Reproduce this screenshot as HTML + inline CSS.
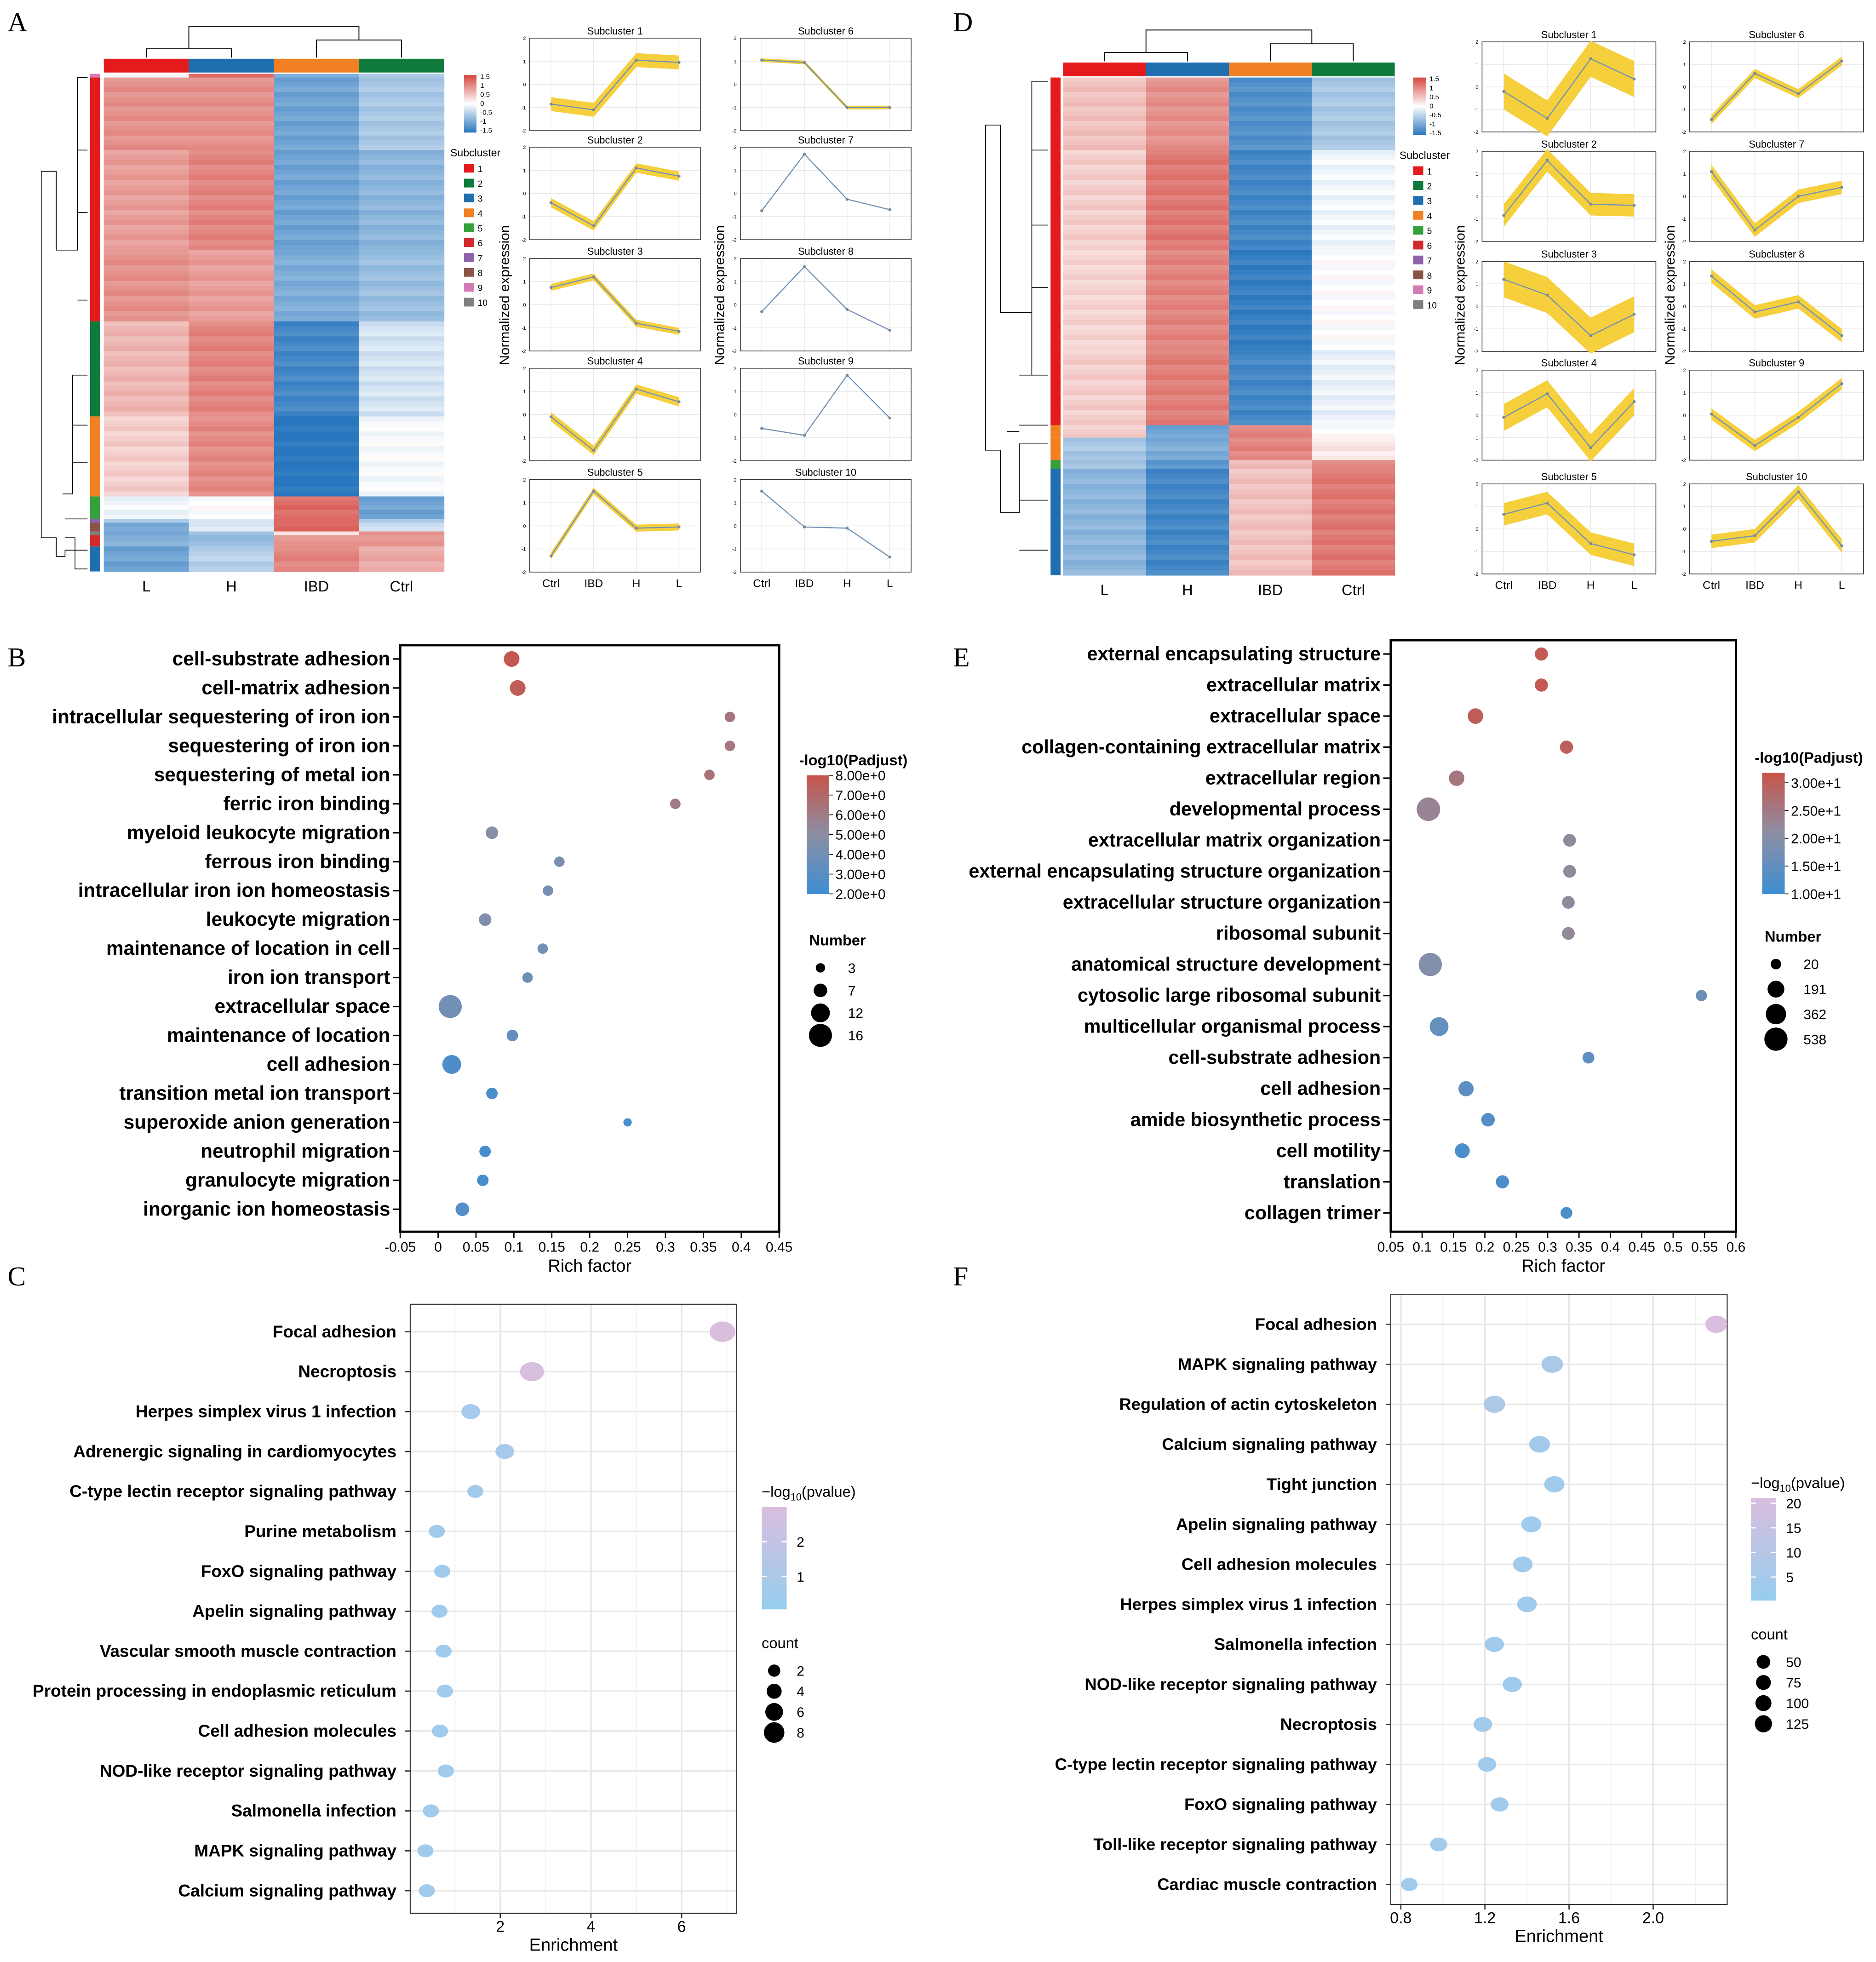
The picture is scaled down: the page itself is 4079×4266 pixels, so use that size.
<!DOCTYPE html>
<html><head><meta charset="utf-8"><style>
html,body{margin:0;padding:0;background:#fff}
svg{display:block}
text{font-family:"Liberation Sans",Arial,sans-serif}
text.lbl{font-family:"Liberation Sans Narrow","Liberation Sans",sans-serif;font-weight:bold}
text.pl{font-family:"Liberation Serif",serif}
</style></head><body>
<svg id="fig" xmlns="http://www.w3.org/2000/svg" width="4079" height="4266" viewBox="0 0 1500 1569" preserveAspectRatio="none">
<rect width="1500" height="1569" fill="#fff"/>
<g font-size="22">
<text class="pl" x="6" y="25">A</text>
<text class="pl" x="762" y="25">D</text>
<text class="pl" x="6" y="533">B</text>
<text class="pl" x="762" y="533">E</text>
<text class="pl" x="6" y="1028">C</text>
<text class="pl" x="762" y="1028">F</text>
</g>
</svg>
<script>
// ===== Heatmap data (A) =====
const hmA_rows=[[59,62],[62,120],[120,200],[200,257],[257,333],[333,397],[397,415],[415,418],[418,425],[425,428],[428,437],[437,457]];
const hmA_clusters=['#d37bb5','#e41a1c','#e41a1c','#e41a1c','#0e7a3b','#f08022','#35a03c','#8e62aa','#8a5446','#808080','#d3292d','#1f6eb0'];
const hmA_L=[0,0.9,0.8,0.9,0.6,0.4,-0.1,-0.5,-0.9,-0.9,-0.8,-1.0];
const hmA_H=[1.3,0.9,1.0,0.8,1.0,0.95,0.0,-0.2,-0.2,-0.6,-0.7,-0.5];
const hmA_IBD=[-0.8,-1.0,-1.0,-0.9,-1.3,-1.5,1.2,1.3,1.3,0.3,0.9,1.0];
const hmA_Ctrl=[-0.5,-0.6,-0.8,-0.7,-0.3,-0.05,-1.0,-0.5,-0.3,1.0,0.9,0.7];
// ===== Heatmap data (D) =====
const hmD_rows=[[62,120],[120,200],[200,280],[280,340],[340,350],[350,368],[368,375],[375,460]];
const hmD_clusters=['#e41a1c','#e41a1c','#e41a1c','#e41a1c','#f08022','#f08022','#35a03c','#1f6eb0'];
const hmD_L=[0.5,0.4,0.35,0.4,0.4,-0.6,-0.6,-0.8];
const hmD_H=[0.9,1.1,1.0,1.05,-1.0,-0.9,-1.1,-1.3];
const hmD_IBD=[-1.2,-1.3,-1.4,-1.3,1.0,1.0,0.6,0.5];
const hmD_Ctrl=[-0.6,-0.1,0.0,-0.15,0.0,0.2,1.0,1.1];
// ===== Subcluster line data =====
const groups=['Ctrl','IBD','H','L'];
const subA=[[-0.85,-1.1,1.05,0.95],[-0.4,-1.4,1.1,0.75],[0.75,1.2,-0.8,-1.15],[-0.1,-1.55,1.1,0.55],[-1.3,1.5,-0.1,-0.05],
 [1.05,0.95,-1.0,-1.0],[-0.75,1.7,-0.25,-0.7],[-0.3,1.65,-0.2,-1.1],[-0.6,-0.9,1.7,-0.15],[1.5,-0.05,-0.1,-1.35]];
const subD=[[-0.2,-1.4,1.25,0.35],[-0.85,1.6,-0.35,-0.4],[1.2,0.5,-1.3,-0.35],[-0.1,0.95,-1.45,0.6],[0.65,1.15,-0.65,-1.15],
 [-1.45,0.6,-0.3,1.15],[1.1,-1.5,0,0.4],[1.35,-0.25,0.2,-1.3],[0.05,-1.35,-0.1,1.4],[-0.55,-0.3,1.65,-0.75]];
const spreadA=[0.3,0.2,0.15,0.2,0.15,0.08,0,0.02,0,0];
const spreadD=[0.8,0.5,0.8,0.6,0.5,0.2,0.3,0.3,0.25,0.3];
const yTicks=[-2,-1,0,1,2];
// ===== B =====
const bTerms=['cell-substrate adhesion','cell-matrix adhesion','intracellular sequestering of iron ion','sequestering of iron ion','sequestering of metal ion','ferric iron binding','myeloid leukocyte migration','ferrous iron binding','intracellular iron ion homeostasis','leukocyte migration','maintenance of location in cell','iron ion transport','extracellular space','maintenance of location','cell adhesion','transition metal ion transport','superoxide anion generation','neutrophil migration','granulocyte migration','inorganic ion homeostasis'];
const bRich=[0.097,0.105,0.385,0.385,0.358,0.313,0.071,0.16,0.145,0.062,0.138,0.118,0.016,0.098,0.018,0.071,0.25,0.062,0.059,0.032];
const bPadj=[7.8,7.6,6.3,6.3,6.5,6.0,4.8,4.3,4.2,4.5,4.1,3.8,4.0,3.4,2.6,2.5,2.4,2.4,2.3,2.8];
const bNum=[9,9,4,4,4,4,6,4,4,6,4,4,16,5,12,5,2,5,5,7];
const bXTicks=[-0.05,0,0.05,0.1,0.15,0.2,0.25,0.3,0.35,0.4,0.45];
// ===== E =====
const eTerms=['external encapsulating structure','extracellular matrix','extracellular space','collagen-containing extracellular matrix','extracellular region','developmental process','extracellular matrix organization','external encapsulating structure organization','extracellular structure organization','ribosomal subunit','anatomical structure development','cytosolic large ribosomal subunit','multicellular organismal process','cell-substrate adhesion','cell adhesion','amide biosynthetic process','cell motility','translation','collagen trimer'];
const eRich=[0.29,0.29,0.185,0.33,0.155,0.11,0.335,0.335,0.333,0.333,0.113,0.545,0.127,0.365,0.17,0.205,0.164,0.228,0.33];
const ePadj=[29,29,28.5,28,24,22,21,21,21,21,19,16,15,14,14,13,12,12,12];
const eNum=[70,70,140,70,140,560,60,60,60,60,540,30,280,40,130,80,120,70,40];
const eXTicks=[0.05,0.1,0.15,0.2,0.25,0.3,0.35,0.4,0.45,0.5,0.55,0.6];
// ===== C =====
const cTerms=['Focal adhesion','Necroptosis','Herpes simplex virus 1 infection','Adrenergic signaling in cardiomyocytes','C-type lectin receptor signaling pathway','Purine metabolism','FoxO signaling pathway','Apelin signaling pathway','Vascular smooth muscle contraction','Protein processing in endoplasmic reticulum','Cell adhesion molecules','NOD-like receptor signaling pathway','Salmonella infection','MAPK signaling pathway','Calcium signaling pathway'];
const cEnr=[6.9,2.7,1.35,2.1,1.45,0.6,0.72,0.66,0.75,0.78,0.67,0.8,0.47,0.35,0.38];
const cP=[2.8,2.7,0.6,0.7,0.5,0.4,0.4,0.4,0.4,0.4,0.4,0.4,0.4,0.4,0.4];
const cCount=[8,7,4,4,2.5,2.5,2.5,2.5,2.5,2.5,2.5,2.5,2.5,2.5,2.5];
const cXTicks=[2,4,6];
// ===== F =====
const fTerms=['Focal adhesion','MAPK signaling pathway','Regulation of actin cytoskeleton','Calcium signaling pathway','Tight junction','Apelin signaling pathway','Cell adhesion molecules','Herpes simplex virus 1 infection','Salmonella infection','NOD-like receptor signaling pathway','Necroptosis','C-type lectin receptor signaling pathway','FoxO signaling pathway','Toll-like receptor signaling pathway','Cardiac muscle contraction'];
const fEnr=[2.3,1.52,1.245,1.46,1.53,1.42,1.38,1.40,1.245,1.33,1.19,1.21,1.27,0.98,0.84];
const fP=[20,6,7,4,3,3,3,3,3,3,3,3,3,3,3];
const fCount=[130,125,125,115,105,100,95,95,85,85,75,70,60,50,40];
const fXTicks=[0.8,1.2,1.6,2.0];

const NS='http://www.w3.org/2000/svg';
const svg=document.getElementById('fig');
function mk(tag,attrs,parent,txt){const e=document.createElementNS(NS,tag);for(const k in attrs)e.setAttribute(k,attrs[k]);if(txt!==undefined)e.textContent=txt;(parent||svg).appendChild(e);return e;}
function lerp(a,b,t){return a+(b-a)*t}
function mix(c1,c2,t){return 'rgb('+[0,1,2].map(i=>Math.round(lerp(c1[i],c2[i],t))).join(',')+')'}
function hmColor(v){v=Math.max(-1.5,Math.min(1.5,v));const B=[40,118,190],W=[255,255,255],R=[212,72,64];return v<0?mix(W,B,-v/1.5):mix(W,R,v/1.5);}
function grad3(t,c0,c1,c2){t=Math.max(0,Math.min(1,t));return t<0.5?mix(c0,c1,t*2):mix(c1,c2,(t-0.5)*2);}
const BLUE=[61,142,211],GREY=[140,143,165],RED=[200,84,74];
const LB=[150,205,238],LP=[218,190,222];

// ---------- Heatmaps ----------
function heatmap(name,x0,colW,rows,clusters,cols,labels,clusterX,topColors,topY){
  const g=mk('g',{});
  rows.forEach((r,i)=>{
    const c=mk('rect',{x:clusterX,y:r[0],width:8,height:r[1]-r[0],fill:clusters[i]},g);
    
    cols.forEach((col,j)=>{
      const v=col[i];
      const n=Math.max(1,Math.round((r[1]-r[0])/4));
      for(let k=0;k<n;k++){
        const h=(r[1]-r[0])/n;
        const dv=((k%3)-1)*0.08;
        const e=mk('rect',{x:x0+j*colW,y:r[0]+k*h,width:colW+0.3,height:h+0.3,fill:hmColor(v+dv)},g);
        
      }
    });
  });
  topColors.forEach((c,j)=>{const e=mk('rect',{x:x0+j*colW,y:topY,width:colW,height:11,fill:c},g);});
  labels.forEach((l,j)=>{const e=mk('text',{x:x0+j*colW+colW/2,y:rows[rows.length-1][1]+16,'font-size':12,'text-anchor':'middle'},g,l);});
  const cx=j=>x0+j*colW+colW/2;
  const d=`M${cx(0)},${topY-1}V${topY-8}H${cx(1)}V${topY-1}M${cx(2)},${topY-1}V${topY-15}H${cx(3)}V${topY-1}M${(cx(0)+cx(1))/2},${topY-8}V${topY-26}H${(cx(2)+cx(3))/2}V${topY-15}`;
  mk('path',{d:d,fill:'none',stroke:'#000','stroke-width':0.7,},g);
  return g;
}
const topCols=['#e41a1c','#1f6eb0','#f08022','#0e7a3b'];
heatmap('heatmap-a',83,68,hmA_rows,hmA_clusters,[hmA_L,hmA_H,hmA_IBD,hmA_Ctrl],['L','H','IBD','Ctrl'],72,topCols,47);
heatmap('heatmap-d',850,66.3,hmD_rows,hmD_clusters,[hmD_L,hmD_H,hmD_IBD,hmD_Ctrl],['L','H','IBD','Ctrl'],840,topCols,50);
mk('path',{d:'M70,62H62V200H45V137H33V430H45V445H52V440H70M62,170H70M62,120H70M62,240H70M50,395H58V300H70M58,340H70M58,370H70M52,415H70M52,430H60V455H70',fill:'none',stroke:'#000','stroke-width':0.6,});
mk('path',{d:'M838,65H825V250H800V100H788V360H800V410H815V355H838M825,120H838M825,180H838M825,230H838M815,300H838M815,340H838M815,400H838M815,440H838M825,300V250M805,345H815',fill:'none',stroke:'#000','stroke-width':0.6,});
function hmLegend(x,y,name){
  const g=mk('g',{});
  const gid=name+'-g';
  const defs=mk('defs',{},g);const lg=mk('linearGradient',{id:gid,x1:0,y1:0,x2:0,y2:1},defs);
  mk('stop',{offset:'0','stop-color':hmColor(1.5)},lg);mk('stop',{offset:'0.5','stop-color':'#fff'},lg);mk('stop',{offset:'1','stop-color':hmColor(-1.5)},lg);
  mk('rect',{x:x,y:y,width:10,height:46,fill:`url(#${gid})`},g);
  ['1.5','1','0.5','0','-0.5','-1','-1.5'].forEach((t,i)=>mk('text',{x:x+13,y:y+3+i*7.2,'font-size':5.5},g,t));
  mk('text',{x:x-11,y:y+65,'font-size':8.5},g,'Subcluster');
  const cc=['#e41a1c','#0e7a3b','#1f6eb0','#f08022','#35a03c','#d3292d','#8e62aa','#8a5446','#d37bb5','#808080'];
  cc.forEach((c,i)=>{mk('rect',{x:x,y:y+71+i*11.9,width:8,height:7,fill:c},g);mk('text',{x:x+11,y:y+77.5+i*11.9,'font-size':7},g,String(i+1));});
}
hmLegend(371,60,'heatmap-legend-a');
hmLegend(1130,62,'heatmap-legend-d');

// ---------- Subcluster plots ----------
function subPlots(name,data,spread,lx,rx,w,tops,h,ylx){
  const G=mk('g',{});
  data.forEach((vals,k)=>{
    const col=k<5?0:1,row=k%5;
    const x0=col?rx:lx,y0=tops[row];
    const g=mk('g',{},G);
    const xs=i=>x0+w*(0.125+0.25*i);
    const ys=v=>y0+h*(2-v)/4;
    groups.forEach((gn,i)=>mk('line',{x1:xs(i),x2:xs(i),y1:y0,y2:y0+h,stroke:'#e6e6e6','stroke-width':0.5},g));
    yTicks.forEach(t=>{mk('line',{x1:x0,x2:x0+w,y1:ys(t),y2:ys(t),stroke:'#e6e6e6','stroke-width':0.5},g);mk('text',{x:x0-3,y:ys(t)+1.5,'font-size':4,'text-anchor':'end'},g,String(t));});
    mk('rect',{x:x0,y:y0,width:w,height:h,fill:'none',stroke:'#333','stroke-width':0.6},g);
    mk('text',{x:x0+w/2,y:y0-3,'font-size':8,'text-anchor':'middle'},g,'Subcluster '+(k+1));
    const s=spread[k];
    if(s>0){
      let top=vals.map((v,i)=>xs(i)+','+ys(v+s)).join(' ');
      let bot=vals.map((v,i)=>xs(i)+','+ys(v-s)).reverse().join(' ');
      const p=mk('polygon',{points:top+' '+bot,fill:'#f5cf3c'},g);
    }
    const ln=mk('polyline',{points:vals.map((v,i)=>xs(i)+','+ys(v)).join(' '),fill:'none',stroke:'#7393b3','stroke-width':0.9},g);
    
    vals.forEach((v,i)=>{const c=mk('circle',{cx:xs(i),cy:ys(v),r:1.2,fill:'#7a8a9a'},g);});
    if(row===4)groups.forEach((gn,i)=>mk('text',{x:xs(i),y:y0+h+12,'font-size':9,'text-anchor':'middle'},g,gn));
  });
  ylx.forEach(x=>mk('text',{x:x,y:236,'font-size':11,'text-anchor':'middle',transform:`rotate(-90 ${x} 236)`},G,'Normalized expression'));
}
subPlots('subcluster-plots-a',subA,spreadA,423.5,592,136.5,[30.5,117.7,206.7,294.5,383.5],74,[407,579]);
subPlots('subcluster-plots-d',subD,spreadD,1185,1351,139,[33.5,121,209,296,387],72,[1171,1339]);

// ---------- Bubble charts B / E ----------
function bubble(name,terms,xv,pv,nv,ticks,box,xmin,xmax,rowTop,rowStep,pmin,pmax,rFn,legend,fs){
  const G=mk('g',{});
  const X=v=>box.x+(v-xmin)/(xmax-xmin)*box.w;
  const Y=i=>rowTop+i*rowStep;
  mk('rect',{x:box.x,y:box.y,width:box.w,height:box.h,fill:'none',stroke:'#000','stroke-width':1.8},G);
  terms.forEach((t,i)=>{
    mk('line',{x1:box.x-6,x2:box.x,y1:Y(i),y2:Y(i),stroke:'#000','stroke-width':1.2},G);
    const l=mk('text',{x:box.x-8,y:Y(i)+5,'font-size':fs,'text-anchor':'end',class:'lbl'},G,t);
    
    const c=mk('circle',{cx:X(xv[i]),cy:Y(i),r:rFn(nv[i]),fill:grad3((pv[i]-pmin)/(pmax-pmin),BLUE,GREY,RED)},G);
    
  });
  ticks.forEach(t=>{mk('line',{x1:X(t),x2:X(t),y1:box.y+box.h,y2:box.y+box.h+5,stroke:'#000','stroke-width':1},G);
    mk('text',{x:X(t),y:box.y+box.h+16,'font-size':11,'text-anchor':'middle'},G,String(t));});
  mk('text',{x:box.x+box.w/2,y:box.y+box.h+32,'font-size':14,'text-anchor':'middle'},G,'Rich factor');
  const L=legend;const gid=name+'-grad';
  const defs=mk('defs',{},G);const lg=mk('linearGradient',{id:gid,x1:0,y1:0,x2:0,y2:1},defs);
  mk('stop',{offset:0,'stop-color':mix(RED,RED,0)},lg);mk('stop',{offset:0.5,'stop-color':mix(GREY,GREY,0)},lg);mk('stop',{offset:1,'stop-color':mix(BLUE,BLUE,0)},lg);
  mk('text',{x:L.x-6,y:L.y-8,'font-size':12,class:'lbl'},G,'-log10(Padjust)');
  mk('rect',{x:L.x,y:L.y,width:18,height:L.gh,fill:`url(#${gid})`},G);
  L.labels.forEach((s,i)=>{const yy=L.y+L.l0+i*L.ls;mk('line',{x1:L.x+18,x2:L.x+21,y1:yy,y2:yy,stroke:'#000','stroke-width':0.6},G);mk('text',{x:L.x+23,y:yy+4,'font-size':11},G,s);});
  mk('text',{x:L.x+2,y:L.ny,'font-size':12,class:'lbl'},G,'Number');
  L.sizes.forEach((s,i)=>{const yy=L.ny+18+i*L.ns;mk('circle',{cx:L.x+11,cy:yy,r:rFn(s),fill:'#000'},G);mk('text',{x:L.x+33,y:yy+4,'font-size':11},G,String(s));});
}
bubble('go-dotplot-b',bTerms,bRich,bPadj,bNum,bXTicks,{x:320,y:516,w:303,h:469},-0.05,0.45,527,23.16,2,8,n=>2.5+n*0.42,
 {x:645,y:620,gh:95,labels:['8.00e+0','7.00e+0','6.00e+0','5.00e+0','4.00e+0','3.00e+0','2.00e+0'],l0:0,ls:15.8,ny:756,sizes:[3,7,12,16],ns:18},15.6);
bubble('go-dotplot-e',eTerms,eRich,ePadj,eNum,eXTicks,{x:1112,y:512,w:276,h:473},0.05,0.6,523,24.83,10,30,n=>3+Math.sqrt(n)*0.27,
 {x:1409,y:618,gh:97,labels:['3.00e+1','2.50e+1','2.00e+1','1.50e+1','1.00e+1'],l0:8,ls:22.2,ny:753,sizes:[20,191,362,538],ns:20},15.2);

// ---------- KEGG C / F ----------
function kegg(name,terms,xv,pv,cv,ticks,minor,box,xmin,xmax,rowTop,rowStep,pmax,rFn,L,fs){
  const G=mk('g',{});
  const X=v=>box.x+(v-xmin)/(xmax-xmin)*box.w;
  const Y=i=>rowTop+i*rowStep;
  minor.forEach(t=>mk('line',{x1:X(t),x2:X(t),y1:box.y,y2:box.y+box.h,stroke:'#f0f0f0','stroke-width':0.7},G));
  ticks.forEach(t=>mk('line',{x1:X(t),x2:X(t),y1:box.y,y2:box.y+box.h,stroke:'#e6e6e6','stroke-width':1.2},G));
  terms.forEach((t,i)=>{mk('line',{x1:box.x,x2:box.x+box.w,y1:Y(i),y2:Y(i),stroke:'#e8e8e8','stroke-width':1.2},G);
    mk('line',{x1:box.x-4,x2:box.x,y1:Y(i),y2:Y(i),stroke:'#333','stroke-width':1},G);
    const l=mk('text',{x:box.x-11,y:Y(i)+4.5,'font-size':fs,'text-anchor':'end',class:'lbl'},G,t);
    });
  mk('rect',{x:box.x,y:box.y,width:box.w,height:box.h,fill:'none',stroke:'#333','stroke-width':0.8},G);
  terms.forEach((t,i)=>{const r=rFn(cv[i]);const e=mk('ellipse',{cx:X(xv[i]),cy:Y(i),rx:r*1.25,ry:r,fill:mix(LB,LP,Math.min(1,pv[i]/pmax))},G);
    });
  ticks.forEach(t=>{mk('line',{x1:X(t),x2:X(t),y1:box.y+box.h,y2:box.y+box.h+4,stroke:'#333','stroke-width':1},G);
    mk('text',{x:X(t),y:box.y+box.h+15,'font-size':12.5,'text-anchor':'middle'},G,t.toFixed(L.dec));});
  mk('text',{x:box.x+box.w/2,y:box.y+box.h+30,'font-size':14,'text-anchor':'middle'},G,'Enrichment');
  const gid=name+'-grad';const defs=mk('defs',{},G);const lg=mk('linearGradient',{id:gid,x1:0,y1:0,x2:0,y2:1},defs);
  mk('stop',{offset:0,'stop-color':mix(LP,LP,0)},lg);mk('stop',{offset:1,'stop-color':mix(LB,LB,0)},lg);
  const t=mk('text',{x:L.x,y:L.y-8,'font-size':12},G,'−log');mk('tspan',{'font-size':8,dy:3},t,'10');mk('tspan',{dy:-3},t,'(pvalue)');
  mk('rect',{x:L.x,y:L.y,width:20,height:L.gh,fill:`url(#${gid})`},G);
  L.lab.forEach((s,i)=>{const yy=L.y+L.gh*(1-L.pos[i]);mk('line',{x1:L.x,x2:L.x+4,y1:yy,y2:yy,stroke:'#fff'},G);mk('line',{x1:L.x+16,x2:L.x+20,y1:yy,y2:yy,stroke:'#fff'},G);mk('text',{x:L.x+28,y:yy+4,'font-size':11},G,s);});
  mk('text',{x:L.x,y:L.cy,'font-size':12},G,'count');
  L.sizes.forEach((s,i)=>{const yy=L.cy+18+i*16.5;mk('circle',{cx:L.x+10,cy:yy,r:rFn(s),fill:'#000'},G);mk('text',{x:L.x+28,y:yy+4,'font-size':11},G,String(s));});
}
kegg('kegg-dotplot-c',cTerms,cEnr,cP,cCount,cXTicks,[1,3,5,7],{x:328,y:1043,w:261,h:487},0.014,7.214,1065,31.93,2.8,c=>3.8+c*0.55,
 {x:609,y:1205,gh:82,lab:['2','1'],pos:[0.66,0.32],cy:1318,sizes:[2,4,6,8],dec:0},13.6);
kegg('kegg-dotplot-f',fTerms,fEnr,fP,fCount,fXTicks,[1.0,1.4,1.8,2.2],{x:1112,y:1035,w:269,h:488},0.752,2.352,1059,32,20,c=>4.6+c*0.018,
 {x:1400,y:1198,gh:82,lab:['20','15','10','5'],pos:[0.95,0.71,0.47,0.23],cy:1311,sizes:[50,75,100,125],dec:1},13.4);
</script>
</body></html>
